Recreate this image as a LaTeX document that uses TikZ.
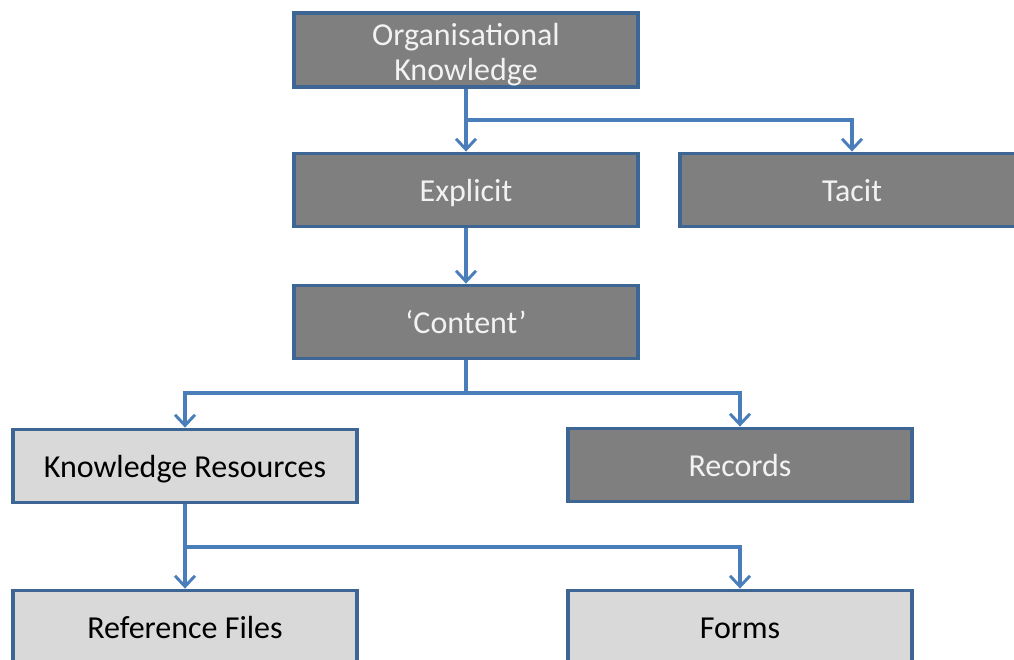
\documentclass[tikz,border=0pt]{standalone}
\usepackage{fontspec}
\setmainfont{Carlito}
\usetikzlibrary{arrows.meta, positioning}
\usepackage{xcolor}

\definecolor{boxline}{HTML}{3E6694}
\definecolor{darkfill}{HTML}{7F7F7F}
\definecolor{lightfill}{HTML}{D9D9D9}
\definecolor{linkblue}{HTML}{4A7EBB}

\begin{document}
\begin{tikzpicture}[
    x=0.75pt, y=-0.75pt,
    dark node/.style={rectangle, fill=darkfill, draw=boxline, line width=2.6pt,
        minimum width=258pt, minimum height=55pt, text height=19.5pt, text depth=3pt,
        align=center, text=white!95!black, font=\fontsize{24}{25.5}\selectfont},
    light node/.style={dark node, fill=lightfill, text=black},
    link/.style={draw=linkblue, line width=2.4pt, -{Straight Barb[length=8pt, width=15pt, line width=2.2pt]}}
]
    \clip (0,0) rectangle (1014,660);
    \useasboundingbox (0,0) rectangle (1014,660);

    % Top levels
    \node[dark node, text height=47pt, text depth=2pt] (org) at (466, 50) {Organisational\\Knowledge};
    \node[dark node] (explicit) at (466, 190) {Explicit};
    \node[dark node] (tacit) at (852, 190) {Tacit};
    \node[dark node] (content) at (466, 322) {`Content'};

    % Content types
    \node[light node] (resources) at (185, 466) {Knowledge Resources};
    \node[dark node] (records) at (740, 465) {Records};
    \node[light node] (reffiles) at (185, 627) {Reference Files};
    \node[light node] (forms) at (740, 627) {Forms};

    % Junctions
    \coordinate (j1) at (466, 120);
    \coordinate (j2) at (466, 393);
    \coordinate (j3) at (185, 547);

    % Edges
    \draw[link] (org.south) -- (explicit.north);
    \draw[link] (j1) -| (tacit.north);
    \draw[link] (explicit.south) -- (content.north);
    \draw[link] (content.south) -- (j2) -| (resources.north);
    \draw[link] (j2) -| (records.north);
    \draw[link] (resources.south) -- (j3) -| (forms.north);
    \draw[link] (j3) -- (reffiles.north);
\end{tikzpicture}
\end{document}
